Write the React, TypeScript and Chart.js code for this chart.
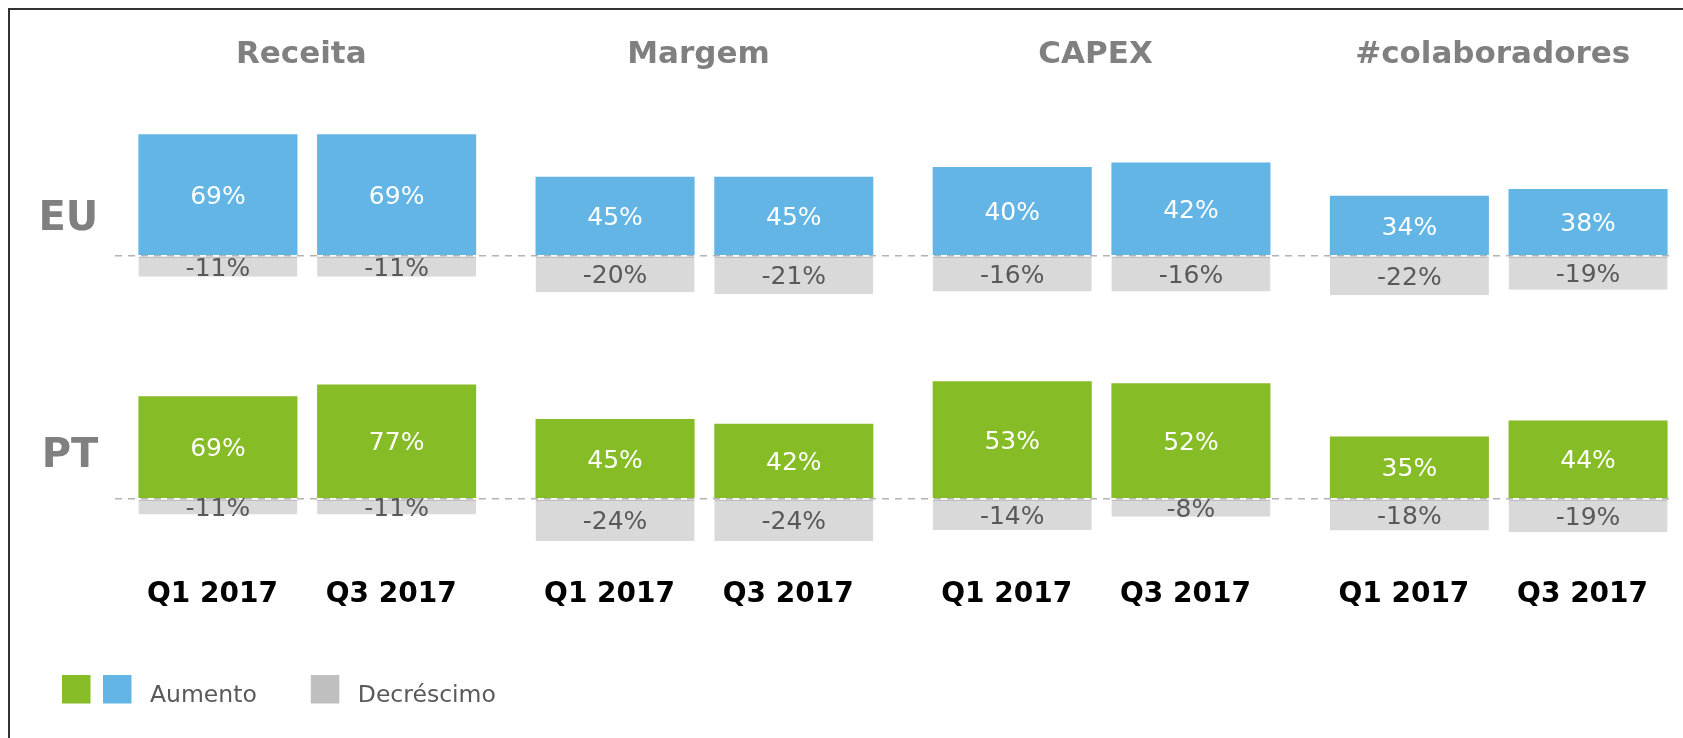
import { useEffect, useRef } from 'react';
import { Chart, registerables } from 'chart.js';

Chart.register(...registerables);

// ---- data ----
const metrics = ['Receita', 'Margem', 'CAPEX', '#colaboradores'];
const quarters = ['Q1 2017', 'Q3 2017'];
const regions = ['EU', 'PT'];
const legendLabels = ['Aumento', 'Decréscimo'];

// printed values (%)
const euGainQ1 = [69, 45, 40, 34];
const euGainQ3 = [69, 45, 42, 38];
const euLossQ1 = [-11, -20, -16, -22];
const euLossQ3 = [-11, -21, -16, -19];
const ptGainQ1 = [69, 45, 53, 35];
const ptGainQ3 = [77, 42, 52, 44];
const ptLossQ1 = [-11, -24, -14, -18];
const ptLossQ3 = [-11, -24, -8, -19];

// bar lengths as drawn in the picture (the infographic does not draw every group to one scale)
const euGainQ1Bar = [69.1, 45.0, 50.4, 34.1];
const euGainQ3Bar = [69.1, 45.0, 53.0, 38.0];
const euLossQ1Bar = [-11.8, -20.6, -20.3, -22.3];
const euLossQ3Bar = [-11.8, -21.6, -20.3, -19.3];
const ptGainQ1Bar = [58.3, 45.4, 66.8, 35.4];
const ptGainQ3Bar = [64.9, 42.6, 65.7, 44.5];
const ptLossQ1Bar = [-8.9, -23.9, -17.8, -18.0];
const ptLossQ3Bar = [-8.9, -23.9, -10.2, -18.9];

// ---- styles ----
const FONT = "'DejaVu Sans', Verdana, sans-serif";
const BLUE = '#62B5E5';
const GREEN = '#86BC25';
const GRAY_BAR = '#D9D9D9';
const GRAY_LEGEND = '#BFBFBF';
const ZERO_LINE = '#B3B3B3';
const TITLE_GREY = '#808080';
const DARK_TEXT = '#595959';

Chart.defaults.font.family = FONT;

const valueLabelPlugin = {
  id: 'valueLabels',
  afterDatasetsDraw(chart: any) {
    const ctx = chart.ctx;
    const size = 25;
    ctx.save();
    ctx.font = `${size}px ${FONT}`;
    ctx.textAlign = 'center';
    ctx.textBaseline = 'alphabetic';
    chart.data.datasets.forEach((ds: any, i: number) => {
      const meta = chart.getDatasetMeta(i);
      meta.data.forEach((bar: any, j: number) => {
        const { x, y, base } = bar.getProps(['x', 'y', 'base'], true);
        const mid = (y + base) / 2;
        ctx.fillStyle = ds.labelColor;
        ctx.fillText(`${ds.printed[j]}%`, x, mid + (size * 0.729) / 2);
      });
    });
    ctx.restore();
  },
};

const quarterLabelPlugin = {
  id: 'quarterLabels',
  afterDatasetsDraw(chart: any, _args: any, opts: any) {
    const ctx = chart.ctx;
    ctx.save();
    ctx.font = `bold 28px ${FONT}`;
    ctx.fillStyle = '#000000';
    ctx.textAlign = 'center';
    ctx.textBaseline = 'alphabetic';
    chart.data.datasets.forEach((ds: any, i: number) => {
      if (!ds.quarterLabel) return;
      const meta = chart.getDatasetMeta(i);
      meta.data.forEach((bar: any) => {
        ctx.fillText(ds.quarterLabel, bar.x + opts.dx, chart.chartArea.bottom + opts.dy);
      });
    });
    ctx.restore();
  },
};

const legendRowPlugin = {
  id: 'legendRow',
  afterDraw(chart: any, _args: any, opts: any) {
    const ctx = chart.ctx;
    ctx.save();
    ctx.font = `${opts.fontSize}px ${FONT}`;
    ctx.textAlign = 'left';
    ctx.textBaseline = 'alphabetic';
    let x = opts.x;
    opts.items.forEach((item: any) => {
      item.colors.forEach((c: string, k: number) => {
        ctx.fillStyle = c;
        ctx.fillRect(x, opts.top, opts.box, opts.box);
        x += opts.box + (k < item.colors.length - 1 ? opts.boxGap : 0);
      });
      x += opts.textGap;
      ctx.fillStyle = DARK_TEXT;
      ctx.fillText(item.label, x, opts.baseline);
      x += ctx.measureText(item.label).width + opts.itemGap;
    });
    ctx.restore();
  },
};

function makeSet(
  region: string,
  quarter: string,
  kind: 'gain' | 'loss',
  bars: number[],
  printed: number[],
  color: string,
  axis: string,
  showQuarter: boolean
) {
  return {
    label: `${region} ${quarter} ${kind === 'gain' ? legendLabels[0] : legendLabels[1]}`,
    data: bars,
    printed,
    yAxisID: axis,
    stack: quarter,
    backgroundColor: color,
    borderColor: kind === 'loss' ? GRAY_LEGEND : color,
    borderWidth: kind === 'loss' ? { top: 1.5, right: 0, bottom: 0, left: 0 } : 0,
    borderSkipped: false,
    labelColor: kind === 'gain' ? '#FFFFFF' : DARK_TEXT,
    quarterLabel: showQuarter ? quarter : undefined,
  };
}

function yAxis(label: string, labelValue: number) {
  return {
    type: 'linear',
    position: 'left',
    stack: 'rows',
    stackWeight: 1,
    min: -58,
    max: 80,
    grid: {
      color: (c: any) => (c.tick && c.tick.value === 0 ? ZERO_LINE : 'rgba(0,0,0,0)'),
      lineWidth: 1.5,
      drawTicks: false,
    },
    border: { display: false, dash: [7, 6], dashOffset: 7 },
    ticks: {
      color: TITLE_GREY,
      font: { size: 40, weight: 'bold' },
      padding: 10.4,
      callback: (v: number) => (v === labelValue ? label : ''),
    },
    afterBuildTicks: (s: any) => {
      s.ticks = [{ value: 0 }, { value: labelValue }];
    },
    afterFit: (s: any) => {
      s.width = 100.7;
    },
  };
}

export default function App() {
  const ref = useRef<HTMLCanvasElement>(null);

  useEffect(() => {
    if (!ref.current) return;
    const chart = new Chart(ref.current, {
      type: 'bar',
      data: {
        labels: metrics,
        datasets: [
          makeSet(regions[0], quarters[0], 'gain', euGainQ1Bar, euGainQ1, BLUE, 'yEU', false),
          makeSet(regions[0], quarters[0], 'loss', euLossQ1Bar, euLossQ1, GRAY_BAR, 'yEU', false),
          makeSet(regions[0], quarters[1], 'gain', euGainQ3Bar, euGainQ3, BLUE, 'yEU', false),
          makeSet(regions[0], quarters[1], 'loss', euLossQ3Bar, euLossQ3, GRAY_BAR, 'yEU', false),
          makeSet(regions[1], quarters[0], 'gain', ptGainQ1Bar, ptGainQ1, GREEN, 'yPT', true),
          makeSet(regions[1], quarters[0], 'loss', ptLossQ1Bar, ptLossQ1, GRAY_BAR, 'yPT', false),
          makeSet(regions[1], quarters[1], 'gain', ptGainQ3Bar, ptGainQ3, GREEN, 'yPT', true),
          makeSet(regions[1], quarters[1], 'loss', ptLossQ3Bar, ptLossQ3, GRAY_BAR, 'yPT', false),
        ] as any,
      },
      options: {
        responsive: false,
        animation: false,
        layout: { padding: { left: 0, right: 30.7, top: 0, bottom: 137 } },
        datasets: { bar: { categoryPercentage: 0.9, barPercentage: 0.89 } },
        plugins: {
          legend: { display: false },
          tooltip: { enabled: false },
          quarterLabels: { dx: -5.5, dy: 1 },
          legendRow: {
            x: 54,
            top: 667,
            box: 28.5,
            boxGap: 12.5,
            textGap: 18.5,
            itemGap: 54,
            baseline: 694.3,
            fontSize: 23.5,
            items: [
              { label: legendLabels[0], colors: [GREEN, BLUE] },
              { label: legendLabels[1], colors: [GRAY_LEGEND] },
            ],
          },
        } as any,
        scales: {
          x: {
            type: 'category',
            position: 'top',
            grid: { display: false, drawTicks: false },
            border: { display: false },
            ticks: {
              color: TITLE_GREY,
              font: { size: 31, weight: 'bold' },
              padding: 41.1,
              labelOffset: -6,
              maxRotation: 0,
              autoSkip: false,
            },
            afterFit: (s: any) => {
              s.height = 107;
            },
          },
          yPT: yAxis(regions[1], 24.2),
          yEU: yAxis(regions[0], 20.4),
        } as any,
      },
      plugins: [valueLabelPlugin, quarterLabelPlugin, legendRowPlugin],
    });
    return () => chart.destroy();
  }, []);

  return (
    <div
      style={{
        position: 'relative',
        width: 1675,
        height: 730,
        marginBottom: -8,
        overflow: 'hidden',
      }}
    >
      <div
        style={{
          position: 'fixed',
          left: 8,
          top: 8,
          width: 1760,
          height: 900,
          border: '2px solid #333',
          boxSizing: 'border-box',
          pointerEvents: 'none',
        }}
      />
      <canvas
        ref={ref}
        width={1720}
        height={730}
        style={{ position: 'absolute', left: 0, top: 0, width: 1720, height: 730 }}
      />
    </div>
  );
}
